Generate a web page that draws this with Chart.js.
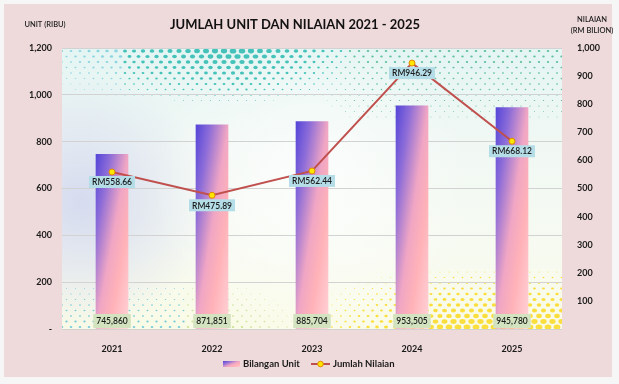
<!DOCTYPE html>
<html><head><meta charset="utf-8">
<script src="https://cdn.jsdelivr.net/npm/chart.js@4.4.0/dist/chart.umd.min.js"></script>
<style>html,body{margin:0;padding:0;background:#f6f6f6;}#wrap{width:619px;height:384px;}</style>
</head><body><div id="wrap"><canvas id="c" width="619" height="384"></canvas></div>
<script>
const categories = ['2021', '2022', '2023', '2024', '2025'];
const unitValues = [745.860, 871.851, 885.704, 953.505, 945.780]; // ribu
const valueBillion = [558.66, 475.89, 562.44, 946.29, 668.12];   // RM bilion
const leftTickStep = 200, leftMax = 1200;
const rightTickStep = 100, rightMax = 1000;
const titleText = 'JUMLAH UNIT DAN NILAIAN 2021 - 2025';
const leftAxisTitle = ['UNIT (RIBU)'];
const rightAxisTitle = ['NILAIAN', '(RM BILION)'];
const seriesNames = ['Bilangan Unit', 'Jumlah Nilaian'];

const FONT = 'Lato, "Open Sans", "DejaVu Sans", sans-serif';
const fmt = v => v.toLocaleString('en-US');

function barGradient(ctx, L, T, R, B) {
  const w = R - L, h = B - T;
  const s = 2 * w * h / (h * h + w * w);
  const g = ctx.createLinearGradient(L, T, L + h * s, T + w * s);
  g.addColorStop(0, '#5546d8');
  g.addColorStop(0.22, '#8c6cd8');
  g.addColorStop(0.5, '#f0a6c4');
  g.addColorStop(0.7, '#ffb2b8');
  g.addColorStop(1, '#ffd3d7');
  return g;
}
const clamp = (v, a, b) => Math.max(a, Math.min(b, v));

const bgPlugin = {
  id: 'bg',
  beforeDraw(chart) {
    const ctx = chart.ctx, a = chart.chartArea;
    ctx.save();
    ctx.fillStyle = '#f6f6f6'; ctx.fillRect(0, 0, chart.width, chart.height);
    ctx.fillStyle = '#efdadb'; ctx.fillRect(4, 4, 608, 373);
    const W = a.right - a.left, H = a.bottom - a.top;
    const g = ctx.createLinearGradient(0, a.top, 0, a.bottom);
    g.addColorStop(0, '#e4f5f3'); g.addColorStop(0.35, '#f1f8f4');
    g.addColorStop(0.7, '#f6faf1'); g.addColorStop(1, '#fafbe6');
    ctx.fillStyle = g; ctx.fillRect(a.left, a.top, W, H);
    ctx.beginPath(); ctx.rect(a.left, a.top, W, H); ctx.clip();
    const rg = ctx.createRadialGradient(a.left + 20, a.top + H * 0.55, 5, a.left + 20, a.top + H * 0.55, 130);
    rg.addColorStop(0, 'rgba(205,210,238,0.75)'); rg.addColorStop(1, 'rgba(205,210,238,0)');
    ctx.fillStyle = rg; ctx.fillRect(a.left, a.top, W, H);
    const rg2 = ctx.createRadialGradient(a.left + W * 0.5, a.top + H * 0.5, 10, a.left + W * 0.5, a.top + H * 0.5, 160);
    rg2.addColorStop(0, 'rgba(255,255,255,0.7)'); rg2.addColorStop(1, 'rgba(255,255,255,0)');
    ctx.fillStyle = rg2; ctx.fillRect(a.left, a.top, W, H);
    // top halftone band
    for (let row = 0; row < 22; row++) {
      const y = a.top + 3 + row * 5.5;
      for (let x = a.left + (row % 2) * 4.5; x < a.right; x += 9) {
        const fx = (x - a.left) / W;
        const env = fx < 0.35 ? 0.35 + fx * 1.85 : clamp(1 - (fx - 0.35) * 3, 0, 1);
        const rT = Math.max(0, 1 - row / 11) * 2.6 * env;
        const rG = fx > 0.4 ? Math.max(0, 1 - row / 20) * 1.0 * clamp((fx - 0.4) * 5, 0, 1) : 0;
        let r, col;
        if (rT >= rG) { r = rT; col = fx < 0.12 ? 'rgba(120,205,220,0.8)' : 'rgba(40,185,175,0.85)'; }
        else { r = rG; col = 'rgba(40,170,120,0.7)'; }
        if (r > 0.35) { ctx.fillStyle = col; ctx.beginPath(); ctx.ellipse(x, y, r * 1.3, r, 0, 0, 7); ctx.fill(); }
      }
    }
    // bottom halftone band
    for (let row = 0; row < 13; row++) {
      const y = a.bottom - 2 - row * 5.5;
      for (let x = a.left + (row % 2) * 4.5; x < a.right; x += 9) {
        const fx = (x - a.left) / W;
        const rY = Math.max(0, 1 - row / 12) * 2.6 * clamp((fx - 0.45) * 3, 0, 1);
        const rB = Math.max(0, 1 - row / 12) * 1.0 * clamp(1 - (fx - 0.35) * 5, 0, 1);
        let r, col;
        if (rY >= rB) { r = rY; col = 'rgba(250,218,40,0.9)'; }
        else { r = rB; col = fx < 0.25 ? 'rgba(90,190,215,0.8)' : 'rgba(190,215,120,0.7)'; }
        if (r > 0.35) { ctx.fillStyle = col; ctx.beginPath(); ctx.ellipse(x, y, r * 1.3, r, 0, 0, 7); ctx.fill(); }
      }
    }
    ctx.restore();
  },
  afterDatasetsDraw(chart) {
    const ctx = chart.ctx;
    ctx.save();
    ctx.textAlign = 'center'; ctx.textBaseline = 'middle';
    ctx.font = '600 8.5px ' + FONT;
    const xs = chart.scales.x, y1 = chart.scales.y1, y = chart.scales.y;
    unitValues.forEach((v, i) => {
      const cx = xs.getPixelForValue(i), cy = y.getPixelForValue(0) - 8;
      const t = fmt(Math.round(v * 1000));
      const w = ctx.measureText(t).width + 6;
      ctx.fillStyle = '#d3e3c0'; ctx.fillRect(cx - w / 2, cy - 7, w, 14);
      ctx.fillStyle = '#1a1a1a'; ctx.fillText(t, cx, cy + 0.5);
    });
    valueBillion.forEach((v, i) => {
      const cx = xs.getPixelForValue(i), cy = y1.getPixelForValue(v) + 10;
      const t = 'RM' + v.toFixed(2);
      const w = ctx.measureText(t).width + 6;
      ctx.fillStyle = '#b5dde8'; ctx.fillRect(cx - w / 2, cy - 6, w, 12);
      ctx.fillStyle = '#1a1a1a'; ctx.fillText(t, cx, cy + 0.5);
    });
    ctx.restore();
  },
  afterDraw(chart) {
    const ctx = chart.ctx;
    ctx.save();
    ctx.fillStyle = '#111'; ctx.textAlign = 'center'; ctx.textBaseline = 'middle';
    ctx.font = 'bold 13px ' + FONT;
    ctx.fillText(titleText, 295, 25);
    ctx.font = '600 7.5px ' + FONT;
    ctx.fillStyle = '#222';
    ctx.fillText(leftAxisTitle[0], 45, 25);
    ctx.fillText(rightAxisTitle[0], 592, 20);
    ctx.fillText(rightAxisTitle[1], 592, 31);
    // legend
    ctx.font = 'bold 9.5px ' + FONT;
    ctx.textAlign = 'left';
    const ly = 364;
    ctx.fillStyle = barGradient(ctx, 223, 361, 240, 368);
    ctx.fillRect(223, 361, 17, 6);
    ctx.fillStyle = '#1a1a1a';
    ctx.fillText(seriesNames[0], 243, ly);
    ctx.strokeStyle = '#c0504d'; ctx.lineWidth = 2;
    ctx.beginPath(); ctx.moveTo(311, ly); ctx.lineTo(330, ly); ctx.stroke();
    ctx.fillStyle = '#ffe600'; ctx.strokeStyle = '#e08a00'; ctx.lineWidth = 1;
    ctx.beginPath(); ctx.arc(320.5, ly, 2.8, 0, 7); ctx.fill(); ctx.stroke();
    ctx.fillStyle = '#1a1a1a';
    ctx.fillText(seriesNames[1], 333, ly);
    ctx.restore();
  }
};

new Chart(document.getElementById('c'), {
  data: {
    labels: categories,
    datasets: [
      {
        type: 'line', label: seriesNames[1], data: valueBillion, yAxisID: 'y1', order: 0,
        borderColor: '#c0504d', borderWidth: 2, pointRadius: 3,
        pointBackgroundColor: '#ffe600', pointBorderColor: '#e08a00', pointBorderWidth: 1,
        tension: 0
      },
      {
        type: 'bar', label: seriesNames[0], data: unitValues, yAxisID: 'y', order: 1,
        barThickness: 32,
        backgroundColor(c) {
          const ch = c.chart;
          if (!ch.chartArea || c.dataIndex === undefined) return '#ffb2b8';
          const xs = ch.scales.x, ys = ch.scales.y;
          const cx = xs.getPixelForValue(c.dataIndex);
          const top = ys.getPixelForValue(unitValues[c.dataIndex]);
          const bot = ys.getPixelForValue(0);
          return barGradient(ch.ctx, cx - 16, top, cx + 16, bot);
        }
      }
    ]
  },
  options: {
    responsive: false, animation: false, devicePixelRatio: 1,
    layout: { padding: { top: 48, left: 0, right: 0, bottom: 0 } },
    plugins: { legend: { display: false }, tooltip: { enabled: false } },
    scales: {
      x: {
        grid: { display: false }, border: { display: false },
        ticks: { color: '#1a1a1a', font: { family: FONT, size: 9, weight: 'bold' }, padding: 7 },
        afterFit(s) { s.height = 55; }
      },
      y: {
        position: 'left', min: 0, max: leftMax,
        grid: { color: '#d2d2d2', lineWidth: 1, drawTicks: false },
        border: { display: false },
        ticks: { stepSize: leftTickStep, padding: 10, color: '#1a1a1a',
          font: { family: FONT, size: 9, weight: 'bold' },
          callback: v => v === 0 ? '-' : fmt(v) },
        afterFit(s) { s.width = 62; }
      },
      y1: {
        position: 'right', min: 0, max: rightMax,
        grid: { drawOnChartArea: false, drawTicks: false }, border: { display: false },
        ticks: { stepSize: rightTickStep, padding: 15, color: '#1a1a1a',
          font: { family: FONT, size: 9, weight: 'bold' },
          callback: v => v === 0 ? '' : fmt(v) },
        afterFit(s) { s.width = 57; }
      }
    }
  },
  plugins: [bgPlugin]
});
</script></body></html>
